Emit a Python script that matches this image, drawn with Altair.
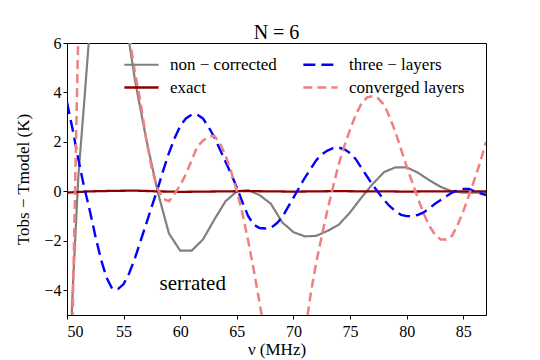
import altair as alt
import pandas as pd

series_names = ["non − corrected", "exact", "three − layers", "converged layers"]
series_colors = ["#808080", "#8B0000", "#0000FF", "#F08080"]
series_dash = [[1, 0], [1, 0], [12, 6], [9, 5]]
series_width = [2.2, 2.5, 3.5, 2.6]

grey_x = [50, 50.5, 51, 51.5, 52, 53, 54, 55, 56, 57, 58, 59, 60, 61, 62, 63, 64, 65, 66, 67,
          68, 69, 70, 71, 72, 73, 74, 75, 76, 77, 78, 79, 80, 81, 82, 83, 84, 85, 86, 87]
grey_y = [-10, -4, 0.6, 3.5, 6.5, 9.5, 10, 7.5, 4.5, 2.1, 0, -1.7, -2.4, -2.4, -1.95, -1.15, -0.4, 0.0, 0.05, -0.15,
          -0.5, -1.25, -1.65, -1.82, -1.8, -1.6, -1.35, -0.85, -0.25, 0.3, 0.78, 0.97, 0.97, 0.75, 0.45, 0.18, 0.0, -0.05, -0.05, -0.05]

exact_x = [50, 52, 54, 56, 58, 60, 62, 64, 66, 68, 70, 72, 74, 76, 78, 80, 82, 84, 86, 87]
exact_y = [-0.05, 0.0, 0.02, 0.03, 0.0, -0.02, -0.01, 0.0, 0.01, 0.0, -0.01, 0.0, 0.01, 0.0, 0.0, -0.01, 0.0, 0.0, 0.0, 0.0]

blue_x = [50, 50.5, 51, 51.5, 52, 52.5, 53, 53.5, 54, 54.5, 55, 55.5, 56, 56.5, 57, 57.5, 58, 58.5, 59, 59.5,
          60, 60.5, 61, 61.5, 62, 62.5, 63, 63.5, 64, 64.5, 65, 65.5, 66, 66.5, 67, 67.5, 68, 68.5, 69, 69.5,
          70, 70.5, 71, 71.5, 72, 72.5, 73, 73.5, 74, 74.5, 75, 75.5, 76, 76.5, 77, 77.5, 78, 78.5, 79, 79.5,
          80, 80.5, 81, 81.5, 82, 82.5, 83, 83.5, 84, 84.5, 85, 85.5, 86, 86.5, 87]
blue_y = [3.6, 2.5, 1.3, 0.2, -0.75, -1.8, -2.75, -3.5, -3.95, -3.95, -3.75, -3.3, -2.7, -2.0, -1.3, -0.6, 0.1, 0.85, 1.55, 2.15,
          2.65, 2.95, 3.1, 3.1, 2.95, 2.6, 2.2, 1.7, 1.2, 0.7, 0.15, -0.45, -1.0, -1.35, -1.48, -1.5, -1.48, -1.3, -1.05, -0.65,
          -0.25, 0.15, 0.55, 0.9, 1.25, 1.5, 1.65, 1.75, 1.77, 1.7, 1.55, 1.3, 0.95, 0.6, 0.25, -0.05, -0.35, -0.6, -0.8, -0.95,
          -1.0, -1.0, -0.95, -0.85, -0.68, -0.5, -0.35, -0.2, -0.05, 0.05, 0.1, 0.1, 0.0, -0.08, -0.15]

pink_x = [50, 50.25, 50.5, 50.75, 51, 51.5, 52, 52.5, 53, 53.5, 54, 54.5, 55, 55.5, 56, 56.5, 57, 57.5, 58, 58.5,
          59, 59.5, 60, 60.5, 61, 61.5, 62, 62.5, 63, 63.5, 64, 64.5, 65, 65.5, 66, 66.5, 67, 67.5, 68, 68.5,
          69, 69.5, 70, 70.5, 71, 71.5, 72, 72.5, 73, 73.5, 74, 74.5, 75, 75.5, 76, 76.5, 77, 77.5, 78, 78.5,
          79, 79.5, 80, 80.5, 81, 81.5, 82, 82.5, 83, 83.5, 84, 84.5, 85, 85.5, 86, 86.5, 87]
pink_y = [-16, -10, -5, 1, 6.5, 11, 13.5, 14.5, 14.5, 13, 11, 9, 7.5, 6.3, 4.8, 3.6, 2.1, 0.9, 0.1, -0.3,
          -0.4, -0.1, 0.25, 0.7, 1.25, 1.8, 2.05, 2.2, 2.25, 1.95, 1.45, 0.8, 0.0, -0.9, -2.0, -3.2, -4.5, -5.8, -7.0, -8.0,
          -8.5, -8.6, -8.3, -7.3, -5.8, -4.2, -2.9, -1.8, -0.75, 0.2, 1.1, 1.85, 2.5, 3.1, 3.55, 3.8, 3.85, 3.75, 3.5, 3.0,
          2.4, 1.7, 1.0, 0.35, -0.3, -0.9, -1.4, -1.75, -1.95, -1.95, -1.8, -1.35, -0.8, -0.15, 0.5, 1.2, 2.0]

x_ticks = [50, 55, 60, 65, 70, 75, 80, 85]
y_ticks = [-4, -2, 0, 2, 4, 6]

frames = []
for name, xs, ys in [("non − corrected", grey_x, grey_y), ("exact", exact_x, exact_y),
                     ("three − layers", blue_x, blue_y), ("converged layers", pink_x, pink_y)]:
    frames.append(pd.DataFrame({"nu": xs, "val": ys, "series": name}))
df = pd.concat(frames, ignore_index=True)

FONT = "Liberation Serif"

color = alt.Color("series:N", scale=alt.Scale(domain=series_names, range=series_colors),
                  legend=alt.Legend(title=None, orient="none", legendX=61, legendY=8, columns=2,
                                    values=series_names,
                                    symbolType="M-1.4,0H1.4", symbolSize=600, symbolStrokeWidth=3,
                                    labelFont=FONT, labelFontSize=17, labelColor="black",
                                    columnPadding=21, rowPadding=1, labelOffset=15, labelLimit=300))
dash = alt.StrokeDash("series:N", scale=alt.Scale(domain=series_names, range=series_dash), legend=None)
width = alt.StrokeWidth("series:N", scale=alt.Scale(domain=series_names, range=series_width), legend=None)

x_enc = alt.X("nu:Q", scale=alt.Scale(domain=[50, 87], nice=False, zero=False),
              axis=alt.Axis(values=x_ticks, title="ν (MHz)", grid=False, tickSize=4,
                            labelFont=FONT, labelFontSize=16, titleFont=FONT, titleFontSize=17,
                            titleFontWeight="normal", labelColor="black", titleColor="black",
                            domainColor="black", tickColor="black", titlePadding=2, labelPadding=4))
y_enc = alt.Y("val:Q", scale=alt.Scale(domain=[-5, 6], nice=False, zero=False),
              axis=alt.Axis(values=y_ticks, title="Tobs − Tmodel (K)", grid=False, tickSize=4,
                            labelFont=FONT, labelFontSize=16, titleFont=FONT, titleFontSize=17,
                            titleFontWeight="normal", labelColor="black", titleColor="black",
                            domainColor="black", tickColor="black", titlePadding=11,
                            labelExpr="replace(datum.label, '-', '−')"))

layers = []
for name in ["non − corrected", "exact", "three − layers", "converged layers"]:
    layers.append(
        alt.Chart(df).transform_filter(alt.datum.series == name)
        .mark_line(clip=True, strokeCap="butt")
        .encode(x=x_enc, y=y_enc, color=color, strokeDash=dash, strokeWidth=width)
    )

ann_df = pd.DataFrame({"nu": [61.1], "val": [-3.75], "txt": ["serrated"]})
ann = alt.Chart(ann_df).mark_text(font=FONT, fontSize=21, color="black").encode(
    x="nu:Q", y="val:Q", text="txt:N")

chart = alt.layer(*layers, ann).properties(
    width=419, height=272,
    title=alt.TitleParams("N = 6", font=FONT, fontSize=20, fontWeight="normal", color="black",
                          frame="group", offset=-8),
    autosize=alt.AutoSizeParams(type="none"),
    padding={"left": 59, "top": 35, "right": 45, "bottom": 50},
).configure(font=FONT).configure_view(stroke="black", strokeWidth=1)

chart.save("out.html", embed_options={"renderer": "svg", "actions": False})
